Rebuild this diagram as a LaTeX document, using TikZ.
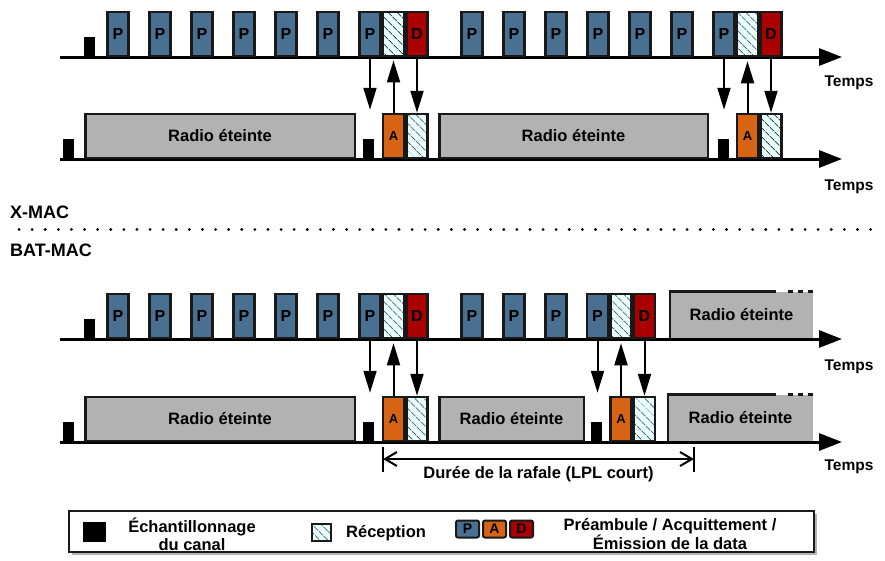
\documentclass[tikz,border=0pt]{standalone}
\usepackage{fontspec}
\setmainfont{Liberation Sans}
\usepackage{tikz}
\usetikzlibrary{arrows.meta,patterns.meta,shadows}
\definecolor{preblue}{RGB}{74,112,145}
\definecolor{ackorange}{RGB}{214,100,20}
\definecolor{datared}{RGB}{170,0,0}
\definecolor{offgray}{RGB}{178,178,178}
\definecolor{recfill}{RGB}{232,255,255}
\definecolor{edge}{RGB}{25,25,25}

\begin{document}
\begin{tikzpicture}[x=1pt, y=-1pt,
    box/.style={draw=edge, line width=2.5pt, rectangle, inner sep=0pt, minimum width=21pt, minimum height=44pt},
    prebox/.style={box, fill=preblue, font=\fontsize{16}{16}\selectfont\bfseries},
    ackbox/.style={box, fill=ackorange, font=\fontsize{13}{13}\selectfont\bfseries},
    datbox/.style={box, fill=datared, font=\fontsize{16}{16}\selectfont\bfseries},
    recbox/.style={box, preaction={fill=recfill}, pattern={Lines[angle=-45,distance=6.5pt,line width=0.8pt]}, pattern color=black!75},
    sampbox/.style={rectangle, fill=black, inner sep=0pt, minimum width=11pt, minimum height=20pt},
    offbox/.style={draw=edge, line width=2.5pt, fill=offgray, rectangle, inner sep=0pt, minimum height=44pt, font=\fontsize{16.5}{16.5}\selectfont\bfseries},
    openbox/.style={fill=offgray, rectangle, inner sep=0pt, minimum height=46.5pt, font=\fontsize{16.5}{16.5}\selectfont\bfseries},
    timeaxis/.style={line width=3pt, -{Triangle[length=23pt,width=17pt]}},
    msg/.style={line width=2pt, -{Triangle[length=22pt,width=13pt]}},
    lbl/.style={inner sep=0pt, font=\fontsize{16.5}{18}\selectfont\bfseries},
    temps/.style={inner sep=0pt, font=\fontsize{15.5}{15.5}\selectfont\bfseries}]

    \useasboundingbox (0,0) rectangle (885,560);

    % time axes
    \draw[timeaxis] (60,57) -- (842,57);
    \draw[timeaxis] (60,159) -- (842,159);
    \draw[timeaxis] (60,339) -- (842,339);
    \draw[timeaxis] (60,442) -- (842,442);
    \node[temps] (t1) at (849,83) {Temps};
    \node[temps] (t2) at (849,187) {Temps};
    \node[temps] (t3) at (849,367) {Temps};
    \node[temps] (t4) at (849,467) {Temps};

    % X-MAC sender
    \node[sampbox] (xs0) at (89.5,47) {};
    \node[prebox] (xp1) at (118,34) {P};
    \node[prebox] (xp2) at (160,34) {P};
    \node[prebox] (xp3) at (202,34) {P};
    \node[prebox] (xp4) at (244,34) {P};
    \node[prebox] (xp5) at (286,34) {P};
    \node[prebox] (xp6) at (328,34) {P};
    \node[prebox] (xp7) at (370,34) {P};
    \node[recbox] (xr1) at (393.5,34) {};
    \node[datbox] (xd1) at (417,34) {D};
    \node[prebox] (xp8) at (472,34) {P};
    \node[prebox] (xp9) at (514,34) {P};
    \node[prebox] (xp10) at (556,34) {P};
    \node[prebox] (xp11) at (598,34) {P};
    \node[prebox] (xp12) at (640,34) {P};
    \node[prebox] (xp13) at (682,34) {P};
    \node[prebox] (xp14) at (724,34) {P};
    \node[recbox] (xr2) at (747.5,34) {};
    \node[datbox] (xd2) at (771,34) {D};

    % X-MAC receiver
    \node[sampbox] (xrs0) at (68.5,149) {};
    \node[offbox, minimum width=269.5pt] (xoff1) at (220,136) {Radio éteinte};
    \node[sampbox] (xrs1) at (368.5,149) {};
    \node[ackbox] (xa1) at (393.5,136) {A};
    \node[recbox] (xrr1) at (417,136) {};
    \node[offbox, minimum width=268.5pt] (xoff2) at (573.5,136) {Radio éteinte};
    \node[sampbox] (xrs2) at (723,149) {};
    \node[ackbox] (xa2) at (747.5,136) {A};
    \node[recbox] (xrr2) at (771,136) {};

    \draw[msg, shorten >=3pt] (xp7.south) -- (xp7.south |- xa1.north);
    \draw[msg, shorten >=4pt] (xa1.north) -- (xr1.south);
    \draw[msg] (xd1.south) -- (xrr1.north);
    \draw[msg, shorten >=3pt] (xp14.south) -- (xp14.south |- xa2.north);
    \draw[msg, shorten >=4pt] (xa2.north) -- (xr2.south);
    \draw[msg] (xd2.south) -- (xrr2.north);

    % protocol names
    \node[inner sep=0pt, anchor=west, font=\fontsize{18}{18}\selectfont\bfseries] (xmac) at (10,212) {X-MAC};
    \draw[line width=3pt, line cap=round, dash pattern=on 0.1pt off 13pt] (19,229) -- (880,229);
    \node[inner sep=0pt, anchor=west, font=\fontsize{18}{18}\selectfont\bfseries] (batmac) at (10,250) {BAT-MAC};

    % BAT-MAC sender
    \node[sampbox] (bs0) at (89.5,329) {};
    \node[prebox] (bp1) at (118,316) {P};
    \node[prebox] (bp2) at (160,316) {P};
    \node[prebox] (bp3) at (202,316) {P};
    \node[prebox] (bp4) at (244,316) {P};
    \node[prebox] (bp5) at (286,316) {P};
    \node[prebox] (bp6) at (328,316) {P};
    \node[prebox] (bp7) at (370,316) {P};
    \node[recbox] (br1) at (393.5,316) {};
    \node[datbox] (bd1) at (417,316) {D};
    \node[prebox] (bp8) at (472,316) {P};
    \node[prebox] (bp9) at (514,316) {P};
    \node[prebox] (bp10) at (556,316) {P};
    \node[prebox] (bp11) at (597.5,316) {P};
    \node[recbox] (br2) at (621,316) {};
    \node[datbox] (bd2) at (644.5,316) {D};
    \node[openbox, minimum width=143pt] (boff0) at (741.5,315) {Radio éteinte};
    \draw[draw=edge, line width=2.5pt] (boff0.south west) -- (boff0.north west) -- ++(106,0);
    \draw[draw=edge, line width=2.5pt, dash pattern=on 5pt off 5pt, dash phase=5pt] (boff0.north east) ++(-30,0) -- (boff0.north east);

    % BAT-MAC receiver
    \node[sampbox] (brs0) at (68.5,432) {};
    \node[offbox, minimum width=269.5pt] (boff1) at (220,419) {Radio éteinte};
    \node[sampbox] (brs1) at (368.5,432) {};
    \node[ackbox] (ba1) at (393.5,419) {A};
    \node[recbox] (brr1) at (417,419) {};
    \node[offbox, minimum width=144.5pt] (boff2) at (511.5,419) {Radio éteinte};
    \node[sampbox] (brs2) at (596.5,432) {};
    \node[ackbox] (ba2) at (621,419) {A};
    \node[recbox] (brr2) at (644.5,419) {};
    \node[openbox, minimum width=145pt] (boff3) at (740.5,418) {Radio éteinte};
    \draw[draw=edge, line width=2.5pt] (boff3.south west) -- (boff3.north west) -- ++(108,0);
    \draw[draw=edge, line width=2.5pt, dash pattern=on 5pt off 5pt, dash phase=5pt] (boff3.north east) ++(-30,0) -- (boff3.north east);

    \draw[msg, shorten >=3pt] (bp7.south) -- (bp7.south |- ba1.north);
    \draw[msg, shorten >=4pt] (ba1.north) -- (br1.south);
    \draw[msg] (bd1.south) -- (brr1.north);
    \draw[msg, shorten >=3pt] (bp11.south) -- (bp11.south |- ba2.north);
    \draw[msg, shorten >=4pt] (ba2.north) -- (br2.south);
    \draw[msg] (bd2.south) -- (brr2.north);

    % burst length
    \coordinate (burst1) at (383,459);
    \coordinate (burst2) at (694,459);
    \draw[line width=2pt] (burst1) ++(0,-12) -- ++(0,25);
    \draw[line width=2pt] (burst2) ++(0,-12) -- ++(0,25);
    \draw[line width=2pt, {Straight Barb[length=12pt,width=14pt]}-{Straight Barb[length=12pt,width=14pt]}] (burst1) -- node[lbl, below=6pt] {Durée de la rafale (LPL court)} (burst2);

    % legend
    \node[draw=edge, line width=2pt, fill=white, minimum width=745pt, minimum height=41pt, drop shadow={shadow xshift=3pt, shadow yshift=-3pt, opacity=0.6}] (legend) at (441.5,531.5) {};
    \node[sampbox, minimum width=23pt] (lsamp) at (94.5,532) {};
    \node[lbl, align=center] (lsamptxt) at (192,534) {Échantillonnage\\du canal};
    \node[recbox, line width=2pt, minimum width=19pt, minimum height=17pt] (lrec) at (321.5,532) {};
    \node[lbl, anchor=west] (lrectxt) at (346,533) {Réception};
    \node[prebox, line width=2pt, rounded corners=2pt, minimum width=23pt, minimum height=17pt, font=\fontsize{14}{14}\selectfont\bfseries] (lp) at (467.5,529) {P};
    \node[ackbox, line width=2pt, rounded corners=2pt, minimum width=23pt, minimum height=17pt, font=\fontsize{14}{14}\selectfont\bfseries] (la) at (494.5,529) {A};
    \node[datbox, line width=2pt, rounded corners=2pt, minimum width=23pt, minimum height=17pt, font=\fontsize{14}{14}\selectfont\bfseries] (ld) at (521.5,529) {D};
    \node[lbl, align=center] (lpadtxt) at (670,534) {Préambule / Acquittement /\\Émission de la data};
\end{tikzpicture}
\end{document}
